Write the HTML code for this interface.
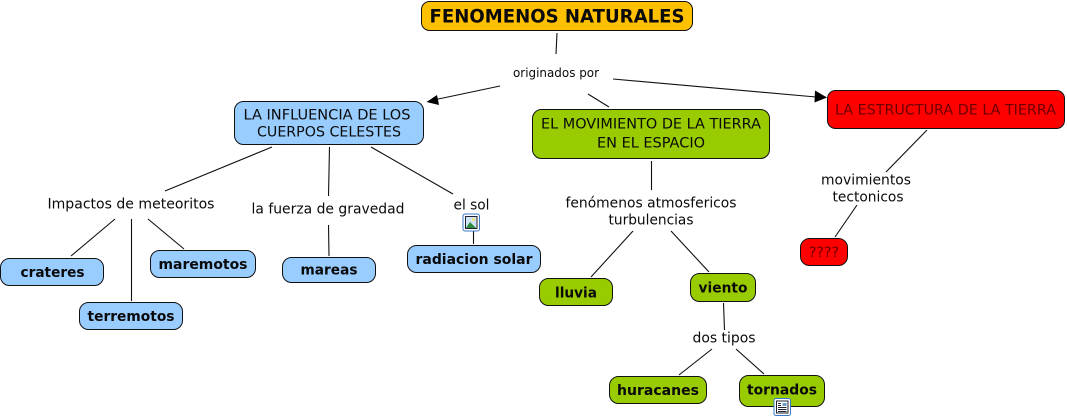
<!DOCTYPE html>
<html><head><meta charset="utf-8"><style>
html,body{margin:0;padding:0;background:#fff;width:1067px;height:418px;overflow:hidden}
svg{display:block}
text{font-family:"DejaVu Sans","Liberation Sans",sans-serif;fill:#0a0a0a}
.b{font-weight:bold;font-size:14.5px}
.n{font-size:14px}
.l{stroke:#111;stroke-width:1.1;fill:none}
rect.c{stroke:#111;stroke-width:1}
</style></head><body>
<svg width="1067" height="418" viewBox="0 0 1067 418" xmlns="http://www.w3.org/2000/svg">
<!-- lines -->
<g class="l">
<line x1="557" y1="33" x2="556" y2="54"/>
<line x1="500" y1="86" x2="436" y2="99.500"/>
<line x1="613" y1="79" x2="816" y2="97"/>
<line x1="588" y1="94" x2="609" y2="107"/>
<line x1="272" y1="147" x2="165" y2="191"/>
<line x1="329.500" y1="147" x2="328.500" y2="196"/>
<line x1="371" y1="147" x2="453" y2="194"/>
<line x1="115" y1="219" x2="71" y2="256"/>
<line x1="131.500" y1="219" x2="131.500" y2="301"/>
<line x1="148" y1="219" x2="184" y2="249"/>
<line x1="328.500" y1="225" x2="329" y2="256"/>
<line x1="473.500" y1="231" x2="473.500" y2="244"/>
<line x1="651.500" y1="161" x2="651.500" y2="190"/>
<line x1="633" y1="231" x2="591" y2="277"/>
<line x1="671" y1="231" x2="709" y2="272"/>
<line x1="723.500" y1="303" x2="724.500" y2="330"/>
<line x1="712" y1="349" x2="679" y2="375"/>
<line x1="736" y1="349" x2="764" y2="374"/>
<line x1="927" y1="130" x2="886" y2="172"/>
<line x1="857" y1="205" x2="835" y2="237"/>
</g>
<polygon points="426.500,102 437,95 439,105" fill="#000"/>
<polygon points="827,97.500 815,90.500 814.500,102.500" fill="#000"/>
<!-- nodes -->
<rect class="c" x="421.500" y="1.500" width="271" height="29" rx="8" fill="#ffc000"/>
<text class="b" x="557" y="22.500" text-anchor="middle" style="font-size:18.500px" textLength="255" lengthAdjust="spacingAndGlyphs">FENOMENOS NATURALES</text>

<rect class="c" x="234.500" y="101.500" width="189" height="43" rx="9" fill="#99ccff"/>
<text class="n" x="327" y="119.500" text-anchor="middle" textLength="167" lengthAdjust="spacingAndGlyphs">LA INFLUENCIA DE LOS</text>
<text class="n" x="329" y="136.500" text-anchor="middle" textLength="144" lengthAdjust="spacingAndGlyphs">CUERPOS CELESTES</text>

<rect class="c" x="532.500" y="109.500" width="237" height="49" rx="9" fill="#99cc00"/>
<text class="n" x="651" y="128.500" text-anchor="middle" textLength="220" lengthAdjust="spacingAndGlyphs">EL MOVIMIENTO DE LA TIERRA</text>
<text class="n" x="651" y="147.500" text-anchor="middle" textLength="108" lengthAdjust="spacingAndGlyphs">EN EL ESPACIO</text>

<rect class="c" x="827.500" y="90.500" width="237" height="38" rx="8" fill="#ff0000"/>
<text class="n" x="945.500" y="114.500" text-anchor="middle" textLength="221" lengthAdjust="spacingAndGlyphs" style="fill:#6a0000">LA ESTRUCTURA DE LA TIERRA</text>

<rect class="c" x="0.500" y="258.500" width="103" height="27" rx="9" fill="#99ccff"/>
<text class="b" x="52.500" y="277" text-anchor="middle" textLength="64" lengthAdjust="spacingAndGlyphs">crateres</text>
<rect class="c" x="79.500" y="302.500" width="103" height="27" rx="9" fill="#99ccff"/>
<text class="b" x="131" y="321" text-anchor="middle" textLength="87" lengthAdjust="spacingAndGlyphs">terremotos</text>
<rect class="c" x="150.500" y="250.500" width="105" height="27" rx="9" fill="#99ccff"/>
<text class="b" x="203" y="269" text-anchor="middle" textLength="89" lengthAdjust="spacingAndGlyphs">maremotos</text>
<rect class="c" x="282.500" y="257.500" width="93" height="25" rx="9" fill="#99ccff"/>
<text class="b" x="329" y="274.500" text-anchor="middle" textLength="57" lengthAdjust="spacingAndGlyphs">mareas</text>
<rect class="c" x="407.500" y="245.500" width="133" height="27" rx="9" fill="#99ccff"/>
<text class="b" x="474" y="264" text-anchor="middle" textLength="117" lengthAdjust="spacingAndGlyphs">radiacion solar</text>

<rect class="c" x="539.500" y="278.500" width="73" height="27" rx="9" fill="#99cc00"/>
<text class="b" x="576" y="297.500" text-anchor="middle" textLength="42" lengthAdjust="spacingAndGlyphs">lluvia</text>
<rect class="c" x="690.500" y="273.500" width="65" height="28" rx="9" fill="#99cc00"/>
<text class="b" x="723" y="292.500" text-anchor="middle" textLength="49" lengthAdjust="spacingAndGlyphs">viento</text>
<rect class="c" x="609.500" y="376.500" width="97" height="27" rx="9" fill="#99cc00"/>
<text class="b" x="658" y="395" text-anchor="middle" textLength="82" lengthAdjust="spacingAndGlyphs">huracanes</text>
<rect class="c" x="739.500" y="375.500" width="85" height="31" rx="9" fill="#99cc00"/>
<text class="b" x="782" y="394.500" text-anchor="middle" textLength="70" lengthAdjust="spacingAndGlyphs">tornados</text>
<rect class="c" x="800.500" y="238.500" width="47" height="27" rx="9" fill="#ff0000"/>
<text class="n" x="824" y="257" text-anchor="middle" textLength="30" lengthAdjust="spacingAndGlyphs" style="fill:#6a0000">????</text>

<!-- link labels -->
<text x="556" y="77" text-anchor="middle" style="font-size:12px" textLength="86" lengthAdjust="spacingAndGlyphs">originados por</text>
<text class="n" x="131" y="208.500" text-anchor="middle" textLength="167" lengthAdjust="spacingAndGlyphs">Impactos de meteoritos</text>
<text class="n" x="328" y="213.500" text-anchor="middle" textLength="153" lengthAdjust="spacingAndGlyphs">la fuerza de gravedad</text>
<text class="n" x="471.500" y="209.500" text-anchor="middle" textLength="36" lengthAdjust="spacingAndGlyphs">el sol</text>
<text class="n" x="651" y="207.500" text-anchor="middle" textLength="171" lengthAdjust="spacingAndGlyphs">fenómenos atmosfericos</text>
<text class="n" x="651" y="224.500" text-anchor="middle" textLength="85" lengthAdjust="spacingAndGlyphs">turbulencias</text>
<text class="n" x="724" y="342.500" text-anchor="middle" textLength="63" lengthAdjust="spacingAndGlyphs">dos tipos</text>
<text class="n" x="866" y="184.500" text-anchor="middle" textLength="90" lengthAdjust="spacingAndGlyphs">movimientos</text>
<text class="n" x="868" y="201.500" text-anchor="middle" textLength="71" lengthAdjust="spacingAndGlyphs">tectonicos</text>

<!-- image icon -->
<rect x="463" y="214" width="16.500" height="17" rx="2" fill="#fff" stroke="#3b78c8" stroke-width="1"/>
<rect x="465.500" y="216.500" width="11.500" height="12" fill="#cfe4f5" stroke="#223" stroke-width="1"/>
<polygon points="466,228 470,222 473,225 476,228" fill="#2e8b3a"/>
<circle cx="473.500" cy="219.500" r="1.500" fill="#f4e26b"/>
<!-- document icon -->
<rect x="774" y="398.500" width="16.500" height="17" rx="2" fill="#fff" stroke="#3b78c8" stroke-width="1"/>
<rect x="776.500" y="401" width="11.500" height="12" fill="#fff" stroke="#223" stroke-width="1"/>
<path d="M778 403.500h3M778 405.500h3M778 407.500h8.500M778 409.500h8.500M778 411.500h8.500" stroke="#223" stroke-width="1" fill="none"/>
<rect x="782.500" y="403" width="4" height="3" fill="#6b9ac4"/>
</svg>
</body></html>
